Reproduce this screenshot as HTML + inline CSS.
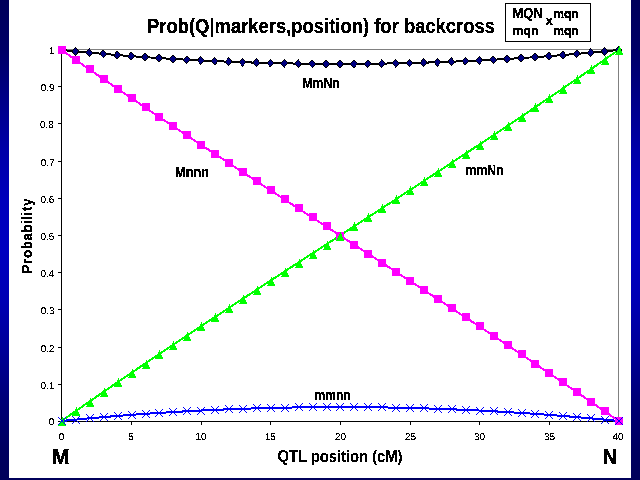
<!DOCTYPE html>
<html><head><meta charset="utf-8"><style>
html,body{margin:0;padding:0;width:640px;height:480px;overflow:hidden}
body{background:linear-gradient(to bottom,#00005a 0px,#000066 50px,#000088 100px,#0000a8 150px,#0000bc 200px,#0000c0 250px,#0000b4 300px,#000098 350px,#000078 400px,#000060 450px,#00005a 480px)}
#w{position:absolute;left:9px;top:0;width:622px;height:478px;background:#fff}
svg{position:absolute;left:0;top:0;will-change:transform}
text{font-family:"Liberation Sans",Arial,sans-serif}
</style></head><body>
<div id="w"></div>
<svg width="640" height="480" viewBox="0 0 640 480">
<defs>
<filter id="al" x="0" y="0" width="1" height="1" color-interpolation-filters="sRGB"><feComponentTransfer><feFuncA type="discrete" tableValues="0 1"/></feComponentTransfer></filter>
<filter id="al2" x="0" y="0" width="1" height="1" color-interpolation-filters="sRGB"><feComponentTransfer><feFuncA type="discrete" tableValues="0 0 0 1 1 1 1 1"/></feComponentTransfer></filter>
</defs>
<g shape-rendering="crispEdges">
<line x1="61" y1="49.5" x2="619" y2="49.5" stroke="#808080" stroke-width="1"/>
<line x1="618.5" y1="49" x2="618.5" y2="421" stroke="#808080" stroke-width="1"/>
<line x1="61.5" y1="49" x2="61.5" y2="422" stroke="#000" stroke-width="1"/>
<line x1="61" y1="421.5" x2="619" y2="421.5" stroke="#000" stroke-width="1"/>
<g stroke="#000" stroke-width="1"><line x1="58" y1="421.5" x2="61" y2="421.5"/><line x1="58" y1="384.5" x2="61" y2="384.5"/><line x1="58" y1="347.5" x2="61" y2="347.5"/><line x1="58" y1="309.5" x2="61" y2="309.5"/><line x1="58" y1="272.5" x2="61" y2="272.5"/><line x1="58" y1="235.5" x2="61" y2="235.5"/><line x1="58" y1="198.5" x2="61" y2="198.5"/><line x1="58" y1="161.5" x2="61" y2="161.5"/><line x1="58" y1="123.5" x2="61" y2="123.5"/><line x1="58" y1="86.5" x2="61" y2="86.5"/><line x1="58" y1="49.5" x2="61" y2="49.5"/></g>
<g stroke="#000" stroke-width="1"><line x1="61.5" y1="421" x2="61.5" y2="425"/><line x1="131.5" y1="421" x2="131.5" y2="425"/><line x1="201.5" y1="421" x2="201.5" y2="425"/><line x1="270.5" y1="421" x2="270.5" y2="425"/><line x1="340.5" y1="421" x2="340.5" y2="425"/><line x1="410.5" y1="421" x2="410.5" y2="425"/><line x1="479.5" y1="421" x2="479.5" y2="425"/><line x1="549.5" y1="421" x2="549.5" y2="425"/><line x1="618.5" y1="421" x2="618.5" y2="425"/></g>
</g>
<g fill="none" stroke-width="2" stroke-linejoin="round" shape-rendering="crispEdges">
<polyline points="61.50,50.00 75.42,51.37 89.35,52.67 103.28,53.90 117.20,55.05 131.12,56.13 145.05,57.14 158.98,58.08 172.90,58.95 186.82,59.74 200.75,60.47 214.68,61.12 228.60,61.71 242.53,62.23 256.45,62.67 270.38,63.05 284.30,63.36 298.23,63.60 312.15,63.77 326.07,63.88 340.00,63.91 353.93,63.88 367.85,63.77 381.78,63.60 395.70,63.36 409.62,63.05 423.55,62.67 437.48,62.23 451.40,61.71 465.33,61.12 479.25,60.47 493.18,59.74 507.10,58.95 521.03,58.08 534.95,57.14 548.88,56.13 562.80,55.05 576.73,53.90 590.65,52.67 604.58,51.37 618.50,50.00" stroke="#000"/>
<polyline points="61.50,50.00 75.42,59.73 89.35,69.39 103.28,78.98 117.20,88.51 131.12,97.98 145.05,107.39 158.98,116.75 172.90,126.07 186.82,135.34 200.75,144.57 214.68,153.77 228.60,162.93 242.53,172.07 256.45,181.18 270.38,190.26 284.30,199.33 298.23,208.39 312.15,217.43 326.07,226.47 340.00,235.50 353.93,244.53 367.85,253.57 381.78,262.61 395.70,271.67 409.62,280.74 423.55,289.82 437.48,298.93 451.40,308.07 465.33,317.23 479.25,326.43 493.18,335.66 507.10,344.93 521.03,354.25 534.95,363.61 548.88,373.02 562.80,382.49 576.73,392.02 590.65,401.61 604.58,411.27 618.50,421.00" stroke="#ff00ff"/>
<polyline points="61.50,421.00 75.42,411.27 89.35,401.61 103.28,392.02 117.20,382.49 131.12,373.02 145.05,363.61 158.98,354.25 172.90,344.93 186.82,335.66 200.75,326.43 214.68,317.23 228.60,308.07 242.53,298.93 256.45,289.82 270.38,280.74 284.30,271.67 298.23,262.61 312.15,253.57 326.07,244.53 340.00,235.50 353.93,226.47 367.85,217.43 381.78,208.39 395.70,199.33 409.62,190.26 423.55,181.18 437.48,172.07 451.40,162.93 465.33,153.77 479.25,144.57 493.18,135.34 507.10,126.07 521.03,116.75 534.95,107.39 548.88,97.98 562.80,88.51 576.73,78.98 590.65,69.39 604.58,59.73 618.50,50.00" stroke="#00ff00"/>
<polyline points="61.50,421.00 75.42,419.63 89.35,418.33 103.28,417.10 117.20,415.95 131.12,414.87 145.05,413.86 158.98,412.92 172.90,412.05 186.82,411.26 200.75,410.53 214.68,409.88 228.60,409.29 242.53,408.77 256.45,408.33 270.38,407.95 284.30,407.64 298.23,407.40 312.15,407.23 326.07,407.12 340.00,407.09 353.93,407.12 367.85,407.23 381.78,407.40 395.70,407.64 409.62,407.95 423.55,408.33 437.48,408.77 451.40,409.29 465.33,409.88 479.25,410.53 493.18,411.26 507.10,412.05 521.03,412.92 534.95,413.86 548.88,414.87 562.80,415.95 576.73,417.10 590.65,418.33 604.58,419.63 618.50,421.00" stroke="#0000ff"/>
</g>
<g shape-rendering="crispEdges"><g><polygon points="61.50,45.60 65.60,50.00 61.50,54.40 57.40,50.00" fill="#000"/><polygon points="61.50,46.50 64.50,50.00 61.50,53.50 58.50,50.00" fill="#000080"/><polygon points="75.42,46.97 79.52,51.37 75.42,55.77 71.33,51.37" fill="#000"/><polygon points="75.42,47.87 78.42,51.37 75.42,54.87 72.42,51.37" fill="#000080"/><polygon points="89.35,48.27 93.45,52.67 89.35,57.07 85.25,52.67" fill="#000"/><polygon points="89.35,49.17 92.35,52.67 89.35,56.17 86.35,52.67" fill="#000080"/><polygon points="103.28,49.50 107.38,53.90 103.28,58.30 99.18,53.90" fill="#000"/><polygon points="103.28,50.40 106.28,53.90 103.28,57.40 100.28,53.90" fill="#000080"/><polygon points="117.20,50.65 121.30,55.05 117.20,59.45 113.10,55.05" fill="#000"/><polygon points="117.20,51.55 120.20,55.05 117.20,58.55 114.20,55.05" fill="#000080"/><polygon points="131.12,51.73 135.22,56.13 131.12,60.53 127.03,56.13" fill="#000"/><polygon points="131.12,52.63 134.12,56.13 131.12,59.63 128.12,56.13" fill="#000080"/><polygon points="145.05,52.74 149.15,57.14 145.05,61.54 140.95,57.14" fill="#000"/><polygon points="145.05,53.64 148.05,57.14 145.05,60.64 142.05,57.14" fill="#000080"/><polygon points="158.98,53.68 163.08,58.08 158.98,62.48 154.88,58.08" fill="#000"/><polygon points="158.98,54.58 161.98,58.08 158.98,61.58 155.98,58.08" fill="#000080"/><polygon points="172.90,54.55 177.00,58.95 172.90,63.35 168.80,58.95" fill="#000"/><polygon points="172.90,55.45 175.90,58.95 172.90,62.45 169.90,58.95" fill="#000080"/><polygon points="186.82,55.34 190.92,59.74 186.82,64.14 182.72,59.74" fill="#000"/><polygon points="186.82,56.24 189.82,59.74 186.82,63.24 183.82,59.74" fill="#000080"/><polygon points="200.75,56.07 204.85,60.47 200.75,64.87 196.65,60.47" fill="#000"/><polygon points="200.75,56.97 203.75,60.47 200.75,63.97 197.75,60.47" fill="#000080"/><polygon points="214.68,56.72 218.78,61.12 214.68,65.52 210.58,61.12" fill="#000"/><polygon points="214.68,57.62 217.68,61.12 214.68,64.62 211.68,61.12" fill="#000080"/><polygon points="228.60,57.31 232.70,61.71 228.60,66.11 224.50,61.71" fill="#000"/><polygon points="228.60,58.21 231.60,61.71 228.60,65.21 225.60,61.71" fill="#000080"/><polygon points="242.53,57.83 246.62,62.23 242.53,66.63 238.43,62.23" fill="#000"/><polygon points="242.53,58.73 245.53,62.23 242.53,65.73 239.53,62.23" fill="#000080"/><polygon points="256.45,58.27 260.55,62.67 256.45,67.07 252.35,62.67" fill="#000"/><polygon points="256.45,59.17 259.45,62.67 256.45,66.17 253.45,62.67" fill="#000080"/><polygon points="270.38,58.65 274.48,63.05 270.38,67.45 266.27,63.05" fill="#000"/><polygon points="270.38,59.55 273.38,63.05 270.38,66.55 267.38,63.05" fill="#000080"/><polygon points="284.30,58.96 288.40,63.36 284.30,67.76 280.20,63.36" fill="#000"/><polygon points="284.30,59.86 287.30,63.36 284.30,66.86 281.30,63.36" fill="#000080"/><polygon points="298.23,59.20 302.33,63.60 298.23,68.00 294.12,63.60" fill="#000"/><polygon points="298.23,60.10 301.23,63.60 298.23,67.10 295.23,63.60" fill="#000080"/><polygon points="312.15,59.37 316.25,63.77 312.15,68.17 308.05,63.77" fill="#000"/><polygon points="312.15,60.27 315.15,63.77 312.15,67.27 309.15,63.77" fill="#000080"/><polygon points="326.07,59.48 330.18,63.88 326.07,68.28 321.97,63.88" fill="#000"/><polygon points="326.07,60.38 329.07,63.88 326.07,67.38 323.07,63.88" fill="#000080"/><polygon points="340.00,59.51 344.10,63.91 340.00,68.31 335.90,63.91" fill="#000"/><polygon points="340.00,60.41 343.00,63.91 340.00,67.41 337.00,63.91" fill="#000080"/><polygon points="353.93,59.48 358.03,63.88 353.93,68.28 349.82,63.88" fill="#000"/><polygon points="353.93,60.38 356.93,63.88 353.93,67.38 350.93,63.88" fill="#000080"/><polygon points="367.85,59.37 371.95,63.77 367.85,68.17 363.75,63.77" fill="#000"/><polygon points="367.85,60.27 370.85,63.77 367.85,67.27 364.85,63.77" fill="#000080"/><polygon points="381.78,59.20 385.88,63.60 381.78,68.00 377.68,63.60" fill="#000"/><polygon points="381.78,60.10 384.78,63.60 381.78,67.10 378.78,63.60" fill="#000080"/><polygon points="395.70,58.96 399.80,63.36 395.70,67.76 391.60,63.36" fill="#000"/><polygon points="395.70,59.86 398.70,63.36 395.70,66.86 392.70,63.36" fill="#000080"/><polygon points="409.62,58.65 413.73,63.05 409.62,67.45 405.52,63.05" fill="#000"/><polygon points="409.62,59.55 412.62,63.05 409.62,66.55 406.62,63.05" fill="#000080"/><polygon points="423.55,58.27 427.65,62.67 423.55,67.07 419.45,62.67" fill="#000"/><polygon points="423.55,59.17 426.55,62.67 423.55,66.17 420.55,62.67" fill="#000080"/><polygon points="437.48,57.83 441.58,62.23 437.48,66.63 433.38,62.23" fill="#000"/><polygon points="437.48,58.73 440.48,62.23 437.48,65.73 434.48,62.23" fill="#000080"/><polygon points="451.40,57.31 455.50,61.71 451.40,66.11 447.30,61.71" fill="#000"/><polygon points="451.40,58.21 454.40,61.71 451.40,65.21 448.40,61.71" fill="#000080"/><polygon points="465.33,56.72 469.43,61.12 465.33,65.52 461.23,61.12" fill="#000"/><polygon points="465.33,57.62 468.33,61.12 465.33,64.62 462.33,61.12" fill="#000080"/><polygon points="479.25,56.07 483.35,60.47 479.25,64.87 475.15,60.47" fill="#000"/><polygon points="479.25,56.97 482.25,60.47 479.25,63.97 476.25,60.47" fill="#000080"/><polygon points="493.18,55.34 497.28,59.74 493.18,64.14 489.07,59.74" fill="#000"/><polygon points="493.18,56.24 496.18,59.74 493.18,63.24 490.18,59.74" fill="#000080"/><polygon points="507.10,54.55 511.20,58.95 507.10,63.35 503.00,58.95" fill="#000"/><polygon points="507.10,55.45 510.10,58.95 507.10,62.45 504.10,58.95" fill="#000080"/><polygon points="521.03,53.68 525.13,58.08 521.03,62.48 516.93,58.08" fill="#000"/><polygon points="521.03,54.58 524.03,58.08 521.03,61.58 518.03,58.08" fill="#000080"/><polygon points="534.95,52.74 539.05,57.14 534.95,61.54 530.85,57.14" fill="#000"/><polygon points="534.95,53.64 537.95,57.14 534.95,60.64 531.95,57.14" fill="#000080"/><polygon points="548.88,51.73 552.98,56.13 548.88,60.53 544.77,56.13" fill="#000"/><polygon points="548.88,52.63 551.88,56.13 548.88,59.63 545.88,56.13" fill="#000080"/><polygon points="562.80,50.65 566.90,55.05 562.80,59.45 558.70,55.05" fill="#000"/><polygon points="562.80,51.55 565.80,55.05 562.80,58.55 559.80,55.05" fill="#000080"/><polygon points="576.73,49.50 580.83,53.90 576.73,58.30 572.62,53.90" fill="#000"/><polygon points="576.73,50.40 579.73,53.90 576.73,57.40 573.73,53.90" fill="#000080"/><polygon points="590.65,48.27 594.75,52.67 590.65,57.07 586.55,52.67" fill="#000"/><polygon points="590.65,49.17 593.65,52.67 590.65,56.17 587.65,52.67" fill="#000080"/><polygon points="604.58,46.97 608.68,51.37 604.58,55.77 600.48,51.37" fill="#000"/><polygon points="604.58,47.87 607.58,51.37 604.58,54.87 601.58,51.37" fill="#000080"/><polygon points="618.50,45.60 622.60,50.00 618.50,54.40 614.40,50.00" fill="#000"/><polygon points="618.50,46.50 621.50,50.00 618.50,53.50 615.50,50.00" fill="#000080"/></g><g fill="#ff00ff"><rect x="58.00" y="46.00" width="8" height="8"/><rect x="72.00" y="55.73" width="8" height="8"/><rect x="86.00" y="65.39" width="8" height="8"/><rect x="100.00" y="74.98" width="8" height="8"/><rect x="114.00" y="84.51" width="8" height="8"/><rect x="128.00" y="93.98" width="8" height="8"/><rect x="142.00" y="103.39" width="8" height="8"/><rect x="155.00" y="112.75" width="8" height="8"/><rect x="169.00" y="122.07" width="8" height="8"/><rect x="183.00" y="131.34" width="8" height="8"/><rect x="197.00" y="140.57" width="8" height="8"/><rect x="211.00" y="149.77" width="8" height="8"/><rect x="225.00" y="158.93" width="8" height="8"/><rect x="239.00" y="168.07" width="8" height="8"/><rect x="253.00" y="177.18" width="8" height="8"/><rect x="267.00" y="186.26" width="8" height="8"/><rect x="281.00" y="195.33" width="8" height="8"/><rect x="295.00" y="204.39" width="8" height="8"/><rect x="309.00" y="213.43" width="8" height="8"/><rect x="323.00" y="222.47" width="8" height="8"/><rect x="336.00" y="231.50" width="8" height="8"/><rect x="350.00" y="240.53" width="8" height="8"/><rect x="364.00" y="249.57" width="8" height="8"/><rect x="378.00" y="258.61" width="8" height="8"/><rect x="392.00" y="267.67" width="8" height="8"/><rect x="406.00" y="276.74" width="8" height="8"/><rect x="420.00" y="285.82" width="8" height="8"/><rect x="434.00" y="294.93" width="8" height="8"/><rect x="448.00" y="304.07" width="8" height="8"/><rect x="462.00" y="313.23" width="8" height="8"/><rect x="476.00" y="322.43" width="8" height="8"/><rect x="490.00" y="331.66" width="8" height="8"/><rect x="504.00" y="340.93" width="8" height="8"/><rect x="518.00" y="350.25" width="8" height="8"/><rect x="531.00" y="359.61" width="8" height="8"/><rect x="545.00" y="369.02" width="8" height="8"/><rect x="559.00" y="378.49" width="8" height="8"/><rect x="573.00" y="388.02" width="8" height="8"/><rect x="587.00" y="397.61" width="8" height="8"/><rect x="601.00" y="407.27" width="8" height="8"/><rect x="615.00" y="417.00" width="8" height="8"/></g><g fill="#00ff00"><polygon points="62.50,417.00 66.40,426.00 58.10,426.00"/><polygon points="76.50,407.00 80.40,416.00 72.10,416.00"/><polygon points="90.50,398.00 94.40,407.00 86.10,407.00"/><polygon points="104.50,388.00 108.40,397.00 100.10,397.00"/><polygon points="118.50,378.00 122.40,387.00 114.10,387.00"/><polygon points="132.50,369.00 136.40,378.00 128.10,378.00"/><polygon points="146.50,360.00 150.40,369.00 142.10,369.00"/><polygon points="159.50,350.00 163.40,359.00 155.10,359.00"/><polygon points="173.50,341.00 177.40,350.00 169.10,350.00"/><polygon points="187.50,332.00 191.40,341.00 183.10,341.00"/><polygon points="201.50,322.00 205.40,331.00 197.10,331.00"/><polygon points="215.50,313.00 219.40,322.00 211.10,322.00"/><polygon points="229.50,304.00 233.40,313.00 225.10,313.00"/><polygon points="243.50,295.00 247.40,304.00 239.10,304.00"/><polygon points="257.50,286.00 261.40,295.00 253.10,295.00"/><polygon points="271.50,277.00 275.40,286.00 267.10,286.00"/><polygon points="285.50,268.00 289.40,277.00 281.10,277.00"/><polygon points="299.50,259.00 303.40,268.00 295.10,268.00"/><polygon points="313.50,250.00 317.40,259.00 309.10,259.00"/><polygon points="327.50,241.00 331.40,250.00 323.10,250.00"/><polygon points="340.50,232.00 344.40,241.00 336.10,241.00"/><polygon points="354.50,222.00 358.40,231.00 350.10,231.00"/><polygon points="368.50,213.00 372.40,222.00 364.10,222.00"/><polygon points="382.50,204.00 386.40,213.00 378.10,213.00"/><polygon points="396.50,195.00 400.40,204.00 392.10,204.00"/><polygon points="410.50,186.00 414.40,195.00 406.10,195.00"/><polygon points="424.50,177.00 428.40,186.00 420.10,186.00"/><polygon points="438.50,168.00 442.40,177.00 434.10,177.00"/><polygon points="452.50,159.00 456.40,168.00 448.10,168.00"/><polygon points="466.50,150.00 470.40,159.00 462.10,159.00"/><polygon points="480.50,141.00 484.40,150.00 476.10,150.00"/><polygon points="494.50,131.00 498.40,140.00 490.10,140.00"/><polygon points="508.50,122.00 512.40,131.00 504.10,131.00"/><polygon points="522.50,113.00 526.40,122.00 518.10,122.00"/><polygon points="535.50,103.00 539.40,112.00 531.10,112.00"/><polygon points="549.50,94.00 553.40,103.00 545.10,103.00"/><polygon points="563.50,85.00 567.40,94.00 559.10,94.00"/><polygon points="577.50,75.00 581.40,84.00 573.10,84.00"/><polygon points="591.50,65.00 595.40,74.00 587.10,74.00"/><polygon points="605.50,56.00 609.40,65.00 601.10,65.00"/><polygon points="619.50,46.00 623.40,55.00 615.10,55.00"/></g><g stroke="#0000ff" stroke-width="1" fill="none"><path d="M58,417L66,425M66,417L58,425"/><path d="M72,416L80,424M80,416L72,424"/><path d="M86,414L94,422M94,414L86,422"/><path d="M100,413L108,421M108,413L100,421"/><path d="M114,412L122,420M122,412L114,420"/><path d="M128,411L136,419M136,411L128,419"/><path d="M142,410L150,418M150,410L142,418"/><path d="M155,409L163,417M163,409L155,417"/><path d="M169,408L177,416M177,408L169,416"/><path d="M183,407L191,415M191,407L183,415"/><path d="M197,407L205,415M205,407L197,415"/><path d="M211,406L219,414M219,406L211,414"/><path d="M225,405L233,413M233,405L225,413"/><path d="M239,405L247,413M247,405L239,413"/><path d="M253,404L261,412M261,404L253,412"/><path d="M267,404L275,412M275,404L267,412"/><path d="M281,404L289,412M289,404L281,412"/><path d="M295,403L303,411M303,403L295,411"/><path d="M309,403L317,411M317,403L309,411"/><path d="M323,403L331,411M331,403L323,411"/><path d="M336,403L344,411M344,403L336,411"/><path d="M350,403L358,411M358,403L350,411"/><path d="M364,403L372,411M372,403L364,411"/><path d="M378,403L386,411M386,403L378,411"/><path d="M392,404L400,412M400,404L392,412"/><path d="M406,404L414,412M414,404L406,412"/><path d="M420,404L428,412M428,404L420,412"/><path d="M434,405L442,413M442,405L434,413"/><path d="M448,405L456,413M456,405L448,413"/><path d="M462,406L470,414M470,406L462,414"/><path d="M476,407L484,415M484,407L476,415"/><path d="M490,407L498,415M498,407L490,415"/><path d="M504,408L512,416M512,408L504,416"/><path d="M518,409L526,417M526,409L518,417"/><path d="M531,410L539,418M539,410L531,418"/><path d="M545,411L553,419M553,411L545,419"/><path d="M559,412L567,420M567,412L559,420"/><path d="M573,413L581,421M581,413L573,421"/><path d="M587,414L595,422M595,414L587,422"/><path d="M601,416L609,424M609,416L601,424"/><path d="M615,417L623,425M623,417L615,425"/></g></g>
<g font-size="10" fill="#000" text-rendering="geometricPrecision" filter="url(#al2)"><text x="48.737" y="425">0</text><text x="40.394" y="389">0.1</text><text x="40.644" y="352">0.2</text><text x="40.644" y="314">0.3</text><text x="40.394" y="277">0.4</text><text x="40.394" y="240">0.5</text><text x="40.394" y="203">0.6</text><text x="40.644" y="166">0.7</text><text x="39.894" y="128">0.8</text><text x="40.644" y="91">0.9</text><text x="48.737" y="54">1</text> <text x="58.719" y="440">0</text><text x="128.219" y="440">5</text><text x="195.438" y="440">10</text><text x="264.688" y="440">15</text><text x="334.938" y="440">20</text><text x="404.938" y="440">25</text><text x="473.938" y="440">30</text><text x="543.938" y="440">35</text><text x="612.438" y="440">40</text></g>
<rect x="505.5" y="3.5" width="85" height="38" fill="none" stroke="#000" stroke-width="1"/>

<g font-weight="bold" fill="#000" filter="url(#al)"><text x="147.00" y="33.00" font-size="20" stroke="#000" stroke-width="0.3" textLength="348.01" lengthAdjust="spacingAndGlyphs">Prob(Q|markers,position) for backcross</text><text x="512.50" y="18.00" font-size="14" stroke="#000" stroke-width="0.3" textLength="30.00" lengthAdjust="spacingAndGlyphs">MQN</text><text x="512.50" y="35.30" font-size="13.5" stroke="#000" stroke-width="0.3" textLength="26.00" lengthAdjust="spacingAndGlyphs">mqn</text><text x="545.50" y="25.00" font-size="13" stroke="#000" stroke-width="0.3" textLength="7.34" lengthAdjust="spacingAndGlyphs">x</text><text x="553.50" y="18.30" font-size="13.5" stroke="#000" stroke-width="0.3" textLength="25.00" lengthAdjust="spacingAndGlyphs">mqn</text><text x="553.50" y="35.30" font-size="13.5" stroke="#000" stroke-width="0.3" textLength="25.00" lengthAdjust="spacingAndGlyphs">mqn</text><text x="51.50" y="464.00" font-size="22" stroke="#000" stroke-width="0.3" textLength="18.24" lengthAdjust="spacingAndGlyphs">M</text><text x="602.50" y="464.00" font-size="22" stroke="#000" stroke-width="0.3" textLength="14.79" lengthAdjust="spacingAndGlyphs">N</text><text transform="translate(277.50,462.00) scale(0.93,1)" font-size="16" stroke="#000" stroke-width="0.2" textLength="134.43" lengthAdjust="spacing">QTL position (cM)</text><text transform="translate(32.00,273.50) rotate(-90) scale(0.88,1)" font-size="15.5" stroke="#000" stroke-width="0.2" textLength="85.26" lengthAdjust="spacing">Probability</text><text x="302.50" y="88.00" font-size="14" stroke="#000" stroke-width="0.3" textLength="37.06" lengthAdjust="spacingAndGlyphs">MmNn</text><text x="175.00" y="177.00" font-size="14" stroke="#000" stroke-width="0.3" textLength="34.11" lengthAdjust="spacingAndGlyphs">Mnnn</text><text x="465.50" y="175.00" font-size="14" stroke="#000" stroke-width="0.3" textLength="38.06" lengthAdjust="spacingAndGlyphs">mmNn</text><text x="314.50" y="400.40" font-size="14" stroke="#000" stroke-width="0.3" textLength="36.06" lengthAdjust="spacingAndGlyphs">mmnn</text></g>
</svg>
</body></html>
